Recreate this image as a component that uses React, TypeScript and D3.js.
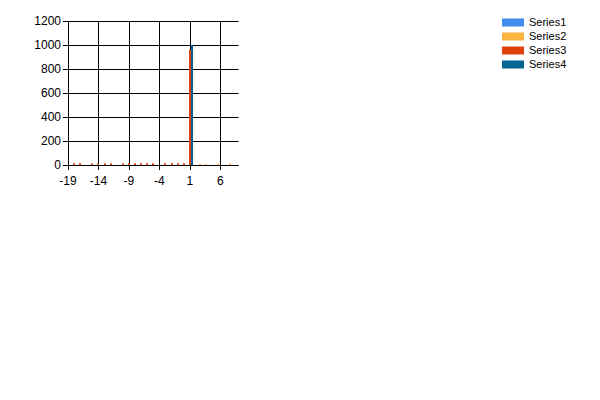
import React, { useEffect, useRef } from 'react';
import * as d3 from 'd3';

// series data (x category, value)
const series1X: number[] = [];
const series1Y: number[] = [];
const series2X = [3, 4, 6, 8];
const series2Y = [8, 8, 10, 10];
const series3X = [-18, -17, -15, -14, -13, -12, -10, -9, -8, -7, -6, -5, -3, -2, -1, 0, 1];
const series3Y = [14, 14, 12, 12, 12, 12, 12, 14, 14, 14, 14, 14, 14, 14, 14, 14, 960];
const series4X = [1];
const series4Y = [1000];

const seriesNames = ['Series1', 'Series2', 'Series3', 'Series4'];
const seriesColors = ['#418CF0', '#FCB441', '#E0400A', '#056492'];

const xTicks = [-19, -14, -9, -4, 1, 6];
const yTicks = [0, 200, 400, 600, 800, 1000, 1200];

const App = () => {
  const svgRef = useRef<SVGSVGElement | null>(null);

  useEffect(() => {
    if (!svgRef.current) return;
    const svg = d3.select(svgRef.current);
    svg.selectAll('*').remove();

    const font = '"Liberation Sans", Arial, sans-serif';
    const left = 68, right = 238.5, top = 21, bottom = 165;

    const x = d3.scaleLinear().domain([-19, 9]).range([left, right]);
    const y = d3.scaleLinear().domain([0, 1200]).range([bottom, top]);

    // gridlines
    yTicks.forEach(t => {
      svg.append('line')
        .attr('x1', left - 5).attr('x2', right)
        .attr('y1', Math.round(y(t)) + 0.5).attr('y2', Math.round(y(t)) + 0.5)
        .attr('stroke', '#000').attr('stroke-width', 1);
      svg.append('text')
        .attr('x', left - 7).attr('y', y(t))
        .attr('dy', '0.36em')
        .attr('text-anchor', 'end')
        .style('font-family', font).style('font-size', '12px')
        .text(t);
    });
    xTicks.forEach(t => {
      svg.append('line')
        .attr('x1', Math.round(x(t)) + 0.5).attr('x2', Math.round(x(t)) + 0.5)
        .attr('y1', top).attr('y2', bottom + 5)
        .attr('stroke', '#000').attr('stroke-width', 1);
      svg.append('text')
        .attr('x', x(t)).attr('y', bottom + 16)
        .attr('dy', '0.36em')
        .attr('text-anchor', 'middle')
        .style('font-family', font).style('font-size', '12px')
        .text(t);
    });

    // bars
    const allX = [series1X, series2X, series3X, series4X];
    const allY = [series1Y, series2Y, series3Y, series4Y];
    const barW = 2;
    allX.forEach((xs, si) => {
      xs.forEach((xv, i) => {
        const h = bottom - y(allY[si][i]);
        svg.append('rect')
          .attr('x', Math.round(x(xv)) + (si - 3) * barW + 1)
          .attr('y', bottom - h)
          .attr('width', barW)
          .attr('height', h)
          .attr('fill', seriesColors[si]);
      });
    });

    // axes on top
    svg.append('line')
      .attr('x1', left - 5).attr('x2', right)
      .attr('y1', bottom + 0.5).attr('y2', bottom + 0.5)
      .attr('stroke', '#000');
    svg.append('line')
      .attr('x1', left + 0.5).attr('x2', left + 0.5)
      .attr('y1', top).attr('y2', bottom + 5)
      .attr('stroke', '#000');

    // legend
    seriesNames.forEach((name, i) => {
      const cy = 22.5 + i * 14;
      svg.append('rect')
        .attr('x', 502).attr('y', cy - 4)
        .attr('width', 22).attr('height', 8)
        .attr('fill', seriesColors[i]);
      svg.append('text')
        .attr('x', 529).attr('y', cy)
        .attr('dy', '0.36em')
        .style('font-family', font).style('font-size', '11px')
        .text(name);
    });
  }, []);

  return (
    <div style={{ position: 'absolute', left: 0, top: 0, width: 600, height: 400, background: '#fff' }}>
      <svg ref={svgRef} width={600} height={400}></svg>
    </div>
  );
};

export default App;
